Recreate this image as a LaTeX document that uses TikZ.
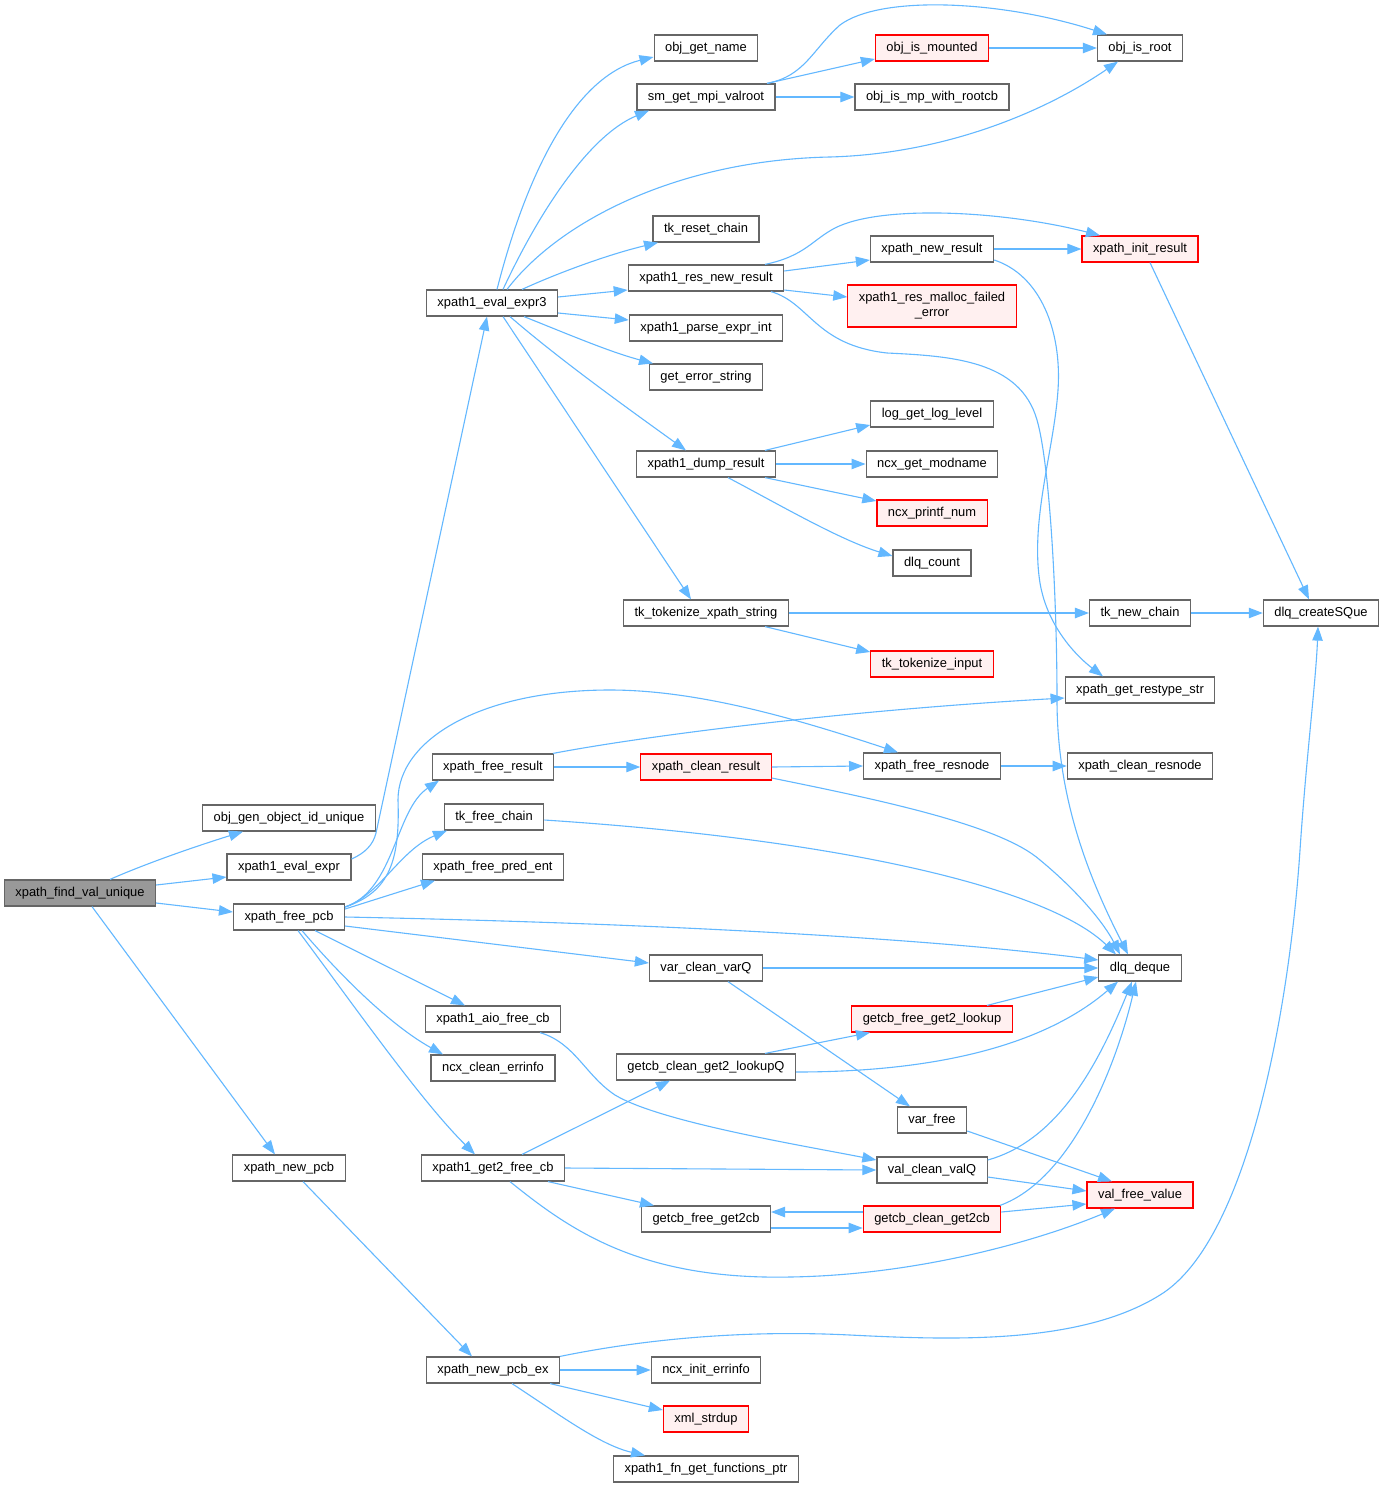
\documentclass[tikz,border=0pt]{standalone}
\usepackage{fontspec}
\setmainfont{Liberation Sans}
\usetikzlibrary{arrows.meta,calc}
\definecolor{edgec}{HTML}{63B8FF}
\definecolor{bordc}{HTML}{666666}
\definecolor{redfill}{HTML}{FFF0F0}
\definecolor{rootfill}{HTML}{999999}
\tikzset{
 fn/.style={draw=bordc, fill=white, line width=0.6pt, rectangle, inner xsep=5.5pt, inner ysep=0pt, minimum height=13pt, font=\fontsize{6.45}{7.6}\selectfont, text=black},
 fnred/.style={fn, draw=red, fill=redfill},
 fnroot/.style={fn, fill=rootfill},
 call/.style={draw=edgec, line width=0.55pt, -{Triangle[length=7pt,width=5.2pt]}},
}
\begin{document}
\begin{tikzpicture}[x=0.5pt,y=-0.5pt]
\useasboundingbox[fill=white] (0,0) rectangle (1384,1488);
% column 0
\node[fnroot] (A) at (80,893) {xpath\_find\_val\_unique};
% column 1
\node[fn] (ogid) at (289,818) {obj\_gen\_object\_id\_unique};
\node[fn] (eve) at (289,867) {xpath1\_eval\_expr};
\node[fn] (fpcb) at (289,917) {xpath\_free\_pcb};
\node[fn] (npcb) at (289,1168) {xpath\_new\_pcb};
% column 2
\node[fn] (ev3) at (492,303) {xpath1\_eval\_expr3};
\node[fn] (fres) at (493,767) {xpath\_free\_result};
\node[fn] (tfc) at (494,817) {tk\_free\_chain};
\node[fn] (fpe) at (493,867) {xpath\_free\_pred\_ent};
\node[fn] (aio) at (493,1019) {xpath1\_aio\_free\_cb};
\node[fn] (cei) at (493,1068) {ncx\_clean\_errinfo};
\node[fn] (g2f) at (493,1168) {xpath1\_get2\_free\_cb};
\node[fn] (npex) at (493,1370) {xpath\_new\_pcb\_ex};
% column 3
\node[fn] (ogn) at (706,48) {obj\_get\_name};
\node[fn] (smv) at (706,97) {sm\_get\_mpi\_valroot};
\node[fn] (trc) at (706,229) {tk\_reset\_chain};
\node[fn] (rnr) at (706,278) {xpath1\_res\_new\_result};
\node[fn] (pei) at (706,328) {xpath1\_parse\_expr\_int};
\node[fn] (ges) at (706,377) {get\_error\_string};
\node[fn] (dump) at (706,464) {xpath1\_dump\_result};
\node[fn] (tts) at (706,613) {tk\_tokenize\_xpath\_string};
\node[fnred] (cres) at (706,767) {xpath\_clean\_result};
\node[fn] (vcv) at (706,968) {var\_clean\_varQ};
\node[fn] (gcl) at (706,1067) {getcb\_clean\_get2\_lookupQ};
\node[fn] (gfg) at (706,1219) {getcb\_free\_get2cb};
\node[fn] (iei) at (706,1370) {ncx\_init\_errinfo};
\node[fnred] (xsd) at (706,1419) {xml\_strdup};
\node[fn] (fgf) at (706,1469) {xpath1\_fn\_get\_functions\_ptr};
% column 4
\node[fnred] (oim) at (932,48) {obj\_is\_mounted};
\node[fn] (omr) at (932,97) {obj\_is\_mp\_with\_rootcb};
\node[fn] (nres) at (932,249) {xpath\_new\_result};
\node[fnred, align=center, minimum height=21pt] (rmf) at (932,306) {xpath1\_res\_malloc\_failed\\\_error};
\node[fn] (lgl) at (932,414) {log\_get\_log\_level};
\node[fn] (gmn) at (932,464) {ncx\_get\_modname};
\node[fnred] (pfn) at (932,513) {ncx\_printf\_num};
\node[fn] (dlc) at (932,563) {dlq\_count};
\node[fnred] (tti) at (932,664) {tk\_tokenize\_input};
\node[fn] (frn) at (932,766) {xpath\_free\_resnode};
\node[fnred] (gfl) at (932,1019) {getcb\_free\_get2\_lookup};
\node[fn] (vfr) at (932,1120) {var\_free};
\node[fn] (vcq) at (932,1170) {val\_clean\_valQ};
\node[fnred] (gcg) at (932,1219) {getcb\_clean\_get2cb};
% column 5
\node[fn] (oir) at (1140,48) {obj\_is\_root};
\node[fnred] (ires) at (1140,249) {xpath\_init\_result};
\node[fn] (tnc) at (1140,613) {tk\_new\_chain};
\node[fn] (grs) at (1140,690) {xpath\_get\_restype\_str};
\node[fn] (crn) at (1140,766) {xpath\_clean\_resnode};
\node[fn] (dlq) at (1140,968) {dlq\_deque};
\node[fnred] (vfv) at (1140,1195) {val\_free\_value};
% column 6
\node[fn] (csq) at (1321,613) {dlq\_createSQue};

% edges from root
\draw[call] ($(A.north)+(30,0)$) .. controls (140,866) and (190,848) .. ($(ogid.south)+(-46,0)$);
\draw[call] ($(A.east)+(0,-8)$) -- ($(eve.west)+(0,10)$);
\draw[call] ($(A.east)+(0,10)$) -- ($(fpcb.west)+(0,-5)$);
\draw[call] ($(A.south)+(12,0)$) -- ($(npcb.north)+(-14,0)$);
\draw[call] ($(eve.east)+(0,-8)$) .. controls (365,853) and (373,845) .. (376,833) -- ($(ev3.south)+(-5,0)$);

% xpath1_eval_expr3
\draw[call] ($(ev3.north)+(5,0)$) .. controls (530,160) and (580,75) .. ($(ogn.west)+(0,9)$);
\draw[call] ($(ev3.north)+(11,0)$) .. controls (540,210) and (590,135) .. ($(smv.south)+(-57,0)$);
\draw[call] ($(ev3.north)+(15,0)$) .. controls (560,220) and (680,160) .. (830,157) .. controls (940,154) and (1040,115) .. ($(oir.south)+(-22,0)$);
\draw[call] ($(ev3.north)+(30,0)$) .. controls (560,272) and (610,254) .. ($(trc.south)+(-48,0)$);
\draw[call] ($(ev3.east)+(0,-6)$) -- ($(rnr.west)+(0,12)$);
\draw[call] ($(ev3.east)+(0,10)$) -- ($(pei.west)+(0,-8)$);
\draw[call] ($(ev3.south)+(32,0)$) .. controls (570,335) and (610,352) .. ($(ges.north)+(-53,0)$);
\draw[call] ($(ev3.south)+(18,0)$) .. controls (560,360) and (630,410) .. ($(dump.north)+(-20,0)$);
\draw[call] ($(ev3.south)+(11,0)$) -- ($(tts.north)+(-15,0)$);

% sm_get_mpi_valroot
\draw[call] ($(smv.north)+(61,0)$) .. controls (805,76) and (812,50) .. (840,25) .. controls (880,-5) and (1000,0) .. ($(oir.north)+(-33,0)$);
\draw[call] ($(smv.north)+(61,0)$) -- ($(oim.west)+(0,11)$);
\draw[call] (smv.east) -- (omr.west);
\draw[call] (oim.east) -- (oir.west);

% xpath1_res_new_result
\draw[call] ($(rnr.north)+(59,0)$) .. controls (805,256) and (812,240) .. (835,228) .. controls (880,205) and (1000,210) .. ($(ires.north)+(-40,0)$);
\draw[call] ($(rnr.east)+(0,-7)$) -- ($(nres.west)+(0,11)$);
\draw[call] ($(rnr.east)+(0,12)$) -- ($(rmf.west)+(0,-9)$);
\draw[call] ($(rnr.south)+(65,0)$) .. controls (810,303) and (815,345) .. (887,353) .. controls (950,356) and (1020,360) .. (1037,420) .. controls (1050,465) and (1057,600) .. (1057,700) .. controls (1057,800) and (1090,880) .. ($(dlq.north)+(-12,0)$);

% xpath_new_result
\draw[call] (nres.east) -- (ires.west);
\draw[call] ($(nres.east)+(0,11)$) .. controls (1040,275) and (1062,330) .. (1058,390) .. controls (1054,450) and (1030,520) .. (1040,583) .. controls (1047,625) and (1075,655) .. ($(grs.north)+(-37,0)$);
\draw[call] ($(ires.south)+(10,0)$) -- ($(csq.north)+(-12,0)$);

% xpath1_dump_result
\draw[call] ($(dump.north)+(59,0)$) -- ($(lgl.west)+(0,11)$);
\draw[call] (dump.east) -- (gmn.west);
\draw[call] ($(dump.south)+(59,0)$) -- ($(pfn.west)+(0,-12)$);
\draw[call] ($(dump.south)+(22,0)$) .. controls (780,505) and (840,540) .. ($(dlc.west)+(0,-7)$);

% tk_tokenize_xpath_string
\draw[call] (tts.east) -- (tnc.west);
\draw[call] ($(tts.south)+(59,0)$) -- ($(tti.west)+(0,-12)$);
\draw[call] (tnc.east) -- (csq.west);

% xpath_free_pcb
\draw[call] ($(fpcb.east)+(0,-10)$) .. controls (390,892) and (400,860) .. (398,800) .. controls (398,740) and (480,690) .. (610,690) .. controls (700,690) and (800,720) .. ($(frn.north)+(-34,0)$);
\draw[call] ($(fpcb.east)+(0,-10)$) .. controls (395,890) and (395,810) .. ($(fres.south)+(-54,0)$);
\draw[call] ($(fpcb.east)+(0,-10)$) .. controls (380,895) and (400,850) .. ($(tfc.south)+(-47,0)$);
\draw[call] ($(fpcb.east)+(0,-8)$) -- ($(fpe.south)+(-58,0)$);
\draw[call] (fpcb.east) .. controls (600,922) and (900,935) .. ($(dlq.west)+(0,-8)$);
\draw[call] ($(fpcb.east)+(0,9)$) -- ($(vcv.west)+(0,-5)$);
\draw[call] ($(fpcb.south)+(26,0)$) -- ($(aio.north)+(-28,0)$);
\draw[call] ($(fpcb.south)+(13,0)$) .. controls (340,975) and (390,1025) .. ($(cei.north)+(-50,0)$);
\draw[call] ($(fpcb.south)+(9,0)$) .. controls (350,1000) and (420,1100) .. ($(g2f.north)+(-18,0)$);

% xpath_free_result / clean_result
\draw[call] (fres.east) -- (cres.west);
\draw[call] ($(fres.north)+(60,0)$) .. controls (650,735) and (850,710) .. ($(grs.west)+(0,8)$);
\draw[call] (cres.east) -- (frn.west);
\draw[call] ($(cres.east)+(0,11)$) .. controls (880,800) and (1000,825) .. (1040,860) .. controls (1080,893) and (1105,925) .. ($(dlq.north)+(-20,0)$);
\draw[call] (frn.east) -- (crn.west);
\draw[call] ($(tfc.east)+(0,3)$) .. controls (850,840) and (1050,890) .. ($(dlq.north)+(-24,0)$);

% var_clean_varQ, lookups
\draw[call] (vcv.east) -- (dlq.west);
\draw[call] ($(vcv.south)+(22,0)$) -- ($(vfr.north)+(-22,0)$);
\draw[call] ($(gfl.north)+(55,0)$) -- ($(dlq.west)+(0,9)$);
\draw[call] ($(gcl.north)+(59,0)$) -- ($(gfl.south)+(-62,0)$);
\draw[call] ($(gcl.east)+(0,5)$) .. controls (950,1072) and (1050,1040) .. ($(dlq.south)+(-22,0)$);
\draw[call] ($(aio.south)+(47,0)$) .. controls (575,1043) and (585,1075) .. (615,1095) .. controls (660,1122) and (800,1145) .. ($(vcq.west)+(0,-10)$);

% val_free_value and friends
\draw[call] ($(vfr.east)+(0,11)$) -- ($(vfv.north)+(-28,0)$);
\draw[call] ($(vcq.east)+(0,-10)$) .. controls (1060,1140) and (1100,1060) .. ($(dlq.south)+(-8,0)$);
\draw[call] ($(vcq.east)+(0,7)$) -- ($(vfv.west)+(0,-4)$);
\draw[call] ($(gcg.north)+(68,0)$) .. controls (1070,1180) and (1115,1070) .. ($(dlq.south)+(-4,0)$);
\draw[call] ($(gcg.east)+(0,-7)$) -- ($(vfv.west)+(0,9)$);
\draw[call] ($(gcg.west)+(0,-7)$) -- ($(gfg.east)+(0,-7)$);
\draw[call] ($(gfg.east)+(0,9)$) -- ($(gcg.west)+(0,9)$);

% xpath1_get2_free_cb
\draw[call] ($(g2f.north)+(29,0)$) -- ($(gcl.south)+(-36,0)$);
\draw[call] (g2f.east) -- (vcq.west);
\draw[call] ($(g2f.south)+(55,0)$) -- ($(gfg.north)+(-52,0)$);
\draw[call] ($(g2f.south)+(17,0)$) .. controls (570,1230) and (640,1280) .. (790,1277) .. controls (920,1275) and (1040,1240) .. ($(vfv.south)+(-25,0)$);

% xpath_new_pcb / ex
\draw[call] ($(npcb.south)+(14,0)$) -- ($(npex.north)+(-21,0)$);
\draw[call] ($(npex.north)+(67,0)$) .. controls (650,1338) and (750,1330) .. (850,1335) .. controls (950,1340) and (1080,1345) .. (1160,1295) .. controls (1250,1240) and (1290,1000) .. (1300,850) .. controls (1306,760) and (1316,680) .. ($(csq.south)+(-3,0)$);
\draw[call] (npex.east) -- (iei.west);
\draw[call] ($(npex.south)+(57,0)$) -- ($(xsd.west)+(0,-9)$);
\draw[call] ($(npex.south)+(19,0)$) .. controls (560,1415) and (600,1445) .. ($(fgf.north)+(-61,0)$);
\end{tikzpicture}
\end{document}
